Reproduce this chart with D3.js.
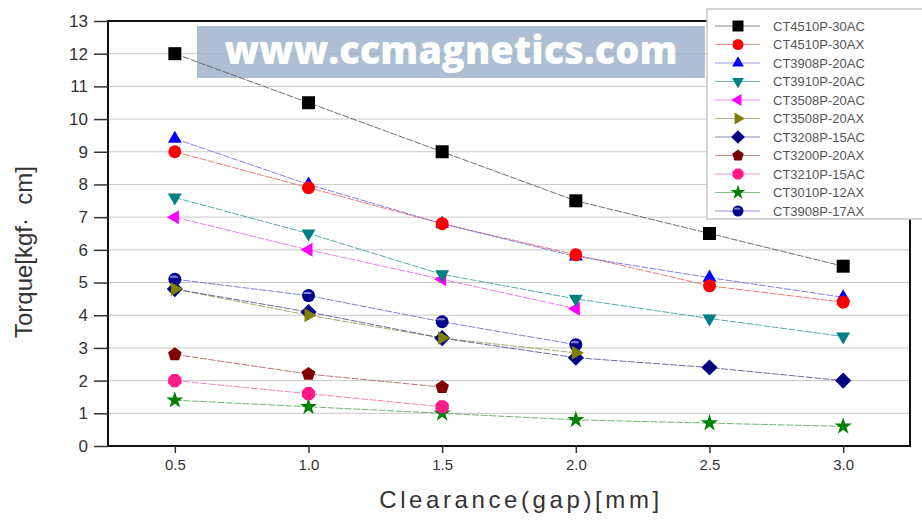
<!DOCTYPE html>
<html>
<head>
<meta charset="utf-8">
<script src="https://cdn.jsdelivr.net/npm/d3@7"></script>
<style>
  body { margin: 0; background: #fff; }
  svg text { font-family: Arial, "Liberation Sans", sans-serif; }
</style>
</head>
<body>
<div id="chart"></div>
<script>
// torque vs clearance, one line per magnet model

const W = 922, H = 522;

const gaps = [0.5, 1.0, 1.5, 2.0, 2.5, 3.0];
const yTicks = [0, 1, 2, 3, 4, 5, 6, 7, 8, 9, 10, 11, 12, 13];
const xTicks = [0.5, 1.0, 1.5, 2.0, 2.5, 3.0];

const models = [
  'CT4510P-30AC', 'CT4510P-30AX', 'CT3908P-20AC', 'CT3910P-20AC',
  'CT3508P-20AC', 'CT3508P-20AX', 'CT3208P-15AC', 'CT3200P-20AX',
  'CT3210P-15AC', 'CT3010P-12AX', 'CT3908P-17AX'
];

const ct4510p30ac = [12.0, 10.5, 9.0, 7.5, 6.5, 5.5];
const ct4510p30ax = [9.0, 7.9, 6.8, 5.85, 4.9, 4.4];
const ct3908p20ac = [9.4, 8.0, 6.8, 5.8, 5.15, 4.55];
const ct3910p20ac = [7.6, 6.5, 5.25, 4.5, 3.9, 3.35];
const ct3508p20ac = [7.0, 6.0, 5.1, 4.2];
const ct3508p20ax = [4.8, 4.0, 3.3, 2.85];
const ct3208p15ac = [4.8, 4.1, 3.3, 2.7, 2.4, 2.0];
const ct3200p20ax = [2.8, 2.2, 1.8];
const ct3210p15ac = [2.0, 1.6, 1.2];
const ct3010p12ax = [1.4, 1.2, 1.0, 0.8, 0.7, 0.6];
const ct3908p17ax = [5.1, 4.6, 3.8, 3.1];

const seriesValues = [
  ct4510p30ac, ct4510p30ax, ct3908p20ac, ct3910p20ac, ct3508p20ac, ct3508p20ax,
  ct3208p15ac, ct3200p20ax, ct3210p15ac, ct3010p12ax, ct3908p17ax
];

// marker fill, line colour, shape
const markColors = ['#000000', '#ff0000', '#0000ff', '#008080', '#ff00ff', '#808000',
  '#000080', '#800000', '#ff1a8c', '#008000', '#00008b'];
const lineColors = ['#555555', '#f06060', '#6a6ae6', '#3a9a9a', '#f060f0', '#9a9a50',
  '#55558f', '#b06060', '#f070b0', '#5aa65a', '#6a6acc'];
const shapes = ['square', 'circle', 'up', 'down', 'left', 'right', 'diamond',
  'pentagon', 'octagon', 'star', 'halfcircle'];

const margin = { left: 108, right: 12, top: 21, bottom: 76 };
const x = d3.scaleLinear().domain([0.25, 3.25]).range([margin.left, W - margin.right]);
const y = d3.scaleLinear().domain([0, 13]).range([H - margin.bottom, margin.top]);

function polygon(n, r, rot) {
  const pts = d3.range(n).map(i => {
    const a = rot + i * 2 * Math.PI / n;
    return [r * Math.sin(a), -r * Math.cos(a)];
  });
  return 'M' + pts.map(p => p.join(',')).join('L') + 'Z';
}

function shapePath(shape, s) {
  // s = nominal marker size in px
  switch (shape) {
    case 'square': return d3.symbol(d3.symbolSquare, s * s)();
    case 'circle': return d3.symbol(d3.symbolCircle, Math.PI * s * s / 4)();
    case 'halfcircle': return d3.symbol(d3.symbolCircle, Math.PI * s * s / 4)();
    case 'up': return polygon(3, s * 0.62, 0);
    case 'down': return polygon(3, s * 0.62, Math.PI);
    case 'left': return polygon(3, s * 0.62, -Math.PI / 2);
    case 'right': return polygon(3, s * 0.62, Math.PI / 2);
    case 'diamond': return polygon(4, s * 0.62, 0);
    case 'pentagon': return polygon(5, s * 0.55, 0);
    case 'octagon': return polygon(8, s * 0.55, Math.PI / 8);
    case 'star': return d3.symbol(d3.symbolStar, s * s * 0.55)();
  }
}

const svg = d3.select('#chart').append('svg')
  .attr('width', W).attr('height', H);

// grid
svg.append('g')
  .selectAll('line')
  .data(yTicks.slice(1, -1))
  .join('line')
  .attr('x1', margin.left).attr('x2', W - margin.right)
  .attr('y1', d => y(d)).attr('y2', d => y(d))
  .attr('stroke', '#c8c8c8').attr('stroke-width', 1);

// watermark banner
svg.append('rect')
  .attr('x', 197).attr('y', 26).attr('width', 508).attr('height', 52)
  .attr('fill', '#8fa6c2').attr('opacity', 0.72);
svg.append('text')
  .attr('x', 451).attr('y', 64)
  .attr('text-anchor', 'middle')
  .attr('fill', '#ffffff')
  .style('font-family', '"Open Sans", sans-serif')
  .style('font-weight', 800)
  .style('font-size', '38px')
  .text('www.ccmagnetics.com');

// lines + markers
const line = d3.line()
  .x((d, i) => x(gaps[i]))
  .y(d => y(d));

seriesValues.forEach((vals, k) => {
  svg.append('path')
    .attr('d', line(vals))
    .attr('fill', 'none')
    .attr('stroke', lineColors[k])
    .attr('stroke-width', 1)
    .attr('stroke-dasharray', '7,1.5')
    .attr('opacity', 0.85);
});

function drawMarker(g, k, cx, cy, s) {
  g.append('path')
    .attr('d', shapePath(shapes[k], s))
    .attr('transform', `translate(${cx},${cy})`)
    .attr('fill', markColors[k]);
  if (shapes[k] === 'halfcircle') {
    g.append('path')
      .attr('d', d3.arc()({ innerRadius: 0, outerRadius: s * 0.32, startAngle: -Math.PI / 2, endAngle: Math.PI / 2 }))
      .attr('transform', `translate(${cx - 1},${cy - 1.5}) scale(1,0.55)`)
      .attr('fill', '#8080d8');
  }
}

// draw in reverse so the first series ends up on top
const marks = svg.append('g');
d3.range(seriesValues.length).reverse().forEach(k => {
  seriesValues[k].forEach((v, i) => drawMarker(marks, k, x(gaps[i]), y(v), 13));
});

// frame
svg.append('rect')
  .attr('x', margin.left).attr('y', margin.top)
  .attr('width', W - margin.left - margin.right)
  .attr('height', H - margin.top - margin.bottom)
  .attr('fill', 'none').attr('stroke', '#111').attr('stroke-width', 2);

// axes
const yAxis = svg.append('g')
  .attr('transform', `translate(${margin.left},0)`)
  .call(d3.axisLeft(y).tickValues(yTicks).tickSize(14).tickPadding(6).tickFormat(d3.format('d')));
yAxis.select('.domain').remove();
yAxis.selectAll('.tick line').attr('stroke', '#333').attr('stroke-width', 1.5);
yAxis.selectAll('.tick text')
  .attr('fill', '#333')
  .style('font-size', '17px');

const xAxis = svg.append('g')
  .attr('transform', `translate(0,${H - margin.bottom})`)
  .call(d3.axisBottom(x).tickValues(xTicks).tickSize(7).tickPadding(6).tickFormat(d3.format('.1f')));
xAxis.select('.domain').remove();
xAxis.selectAll('.tick line').attr('stroke', '#333').attr('stroke-width', 1.5);
xAxis.selectAll('.tick text')
  .attr('fill', '#333')
  .style('font-size', '15px');

// axis titles
svg.append('text')
  .attr('transform', 'translate(32,252) rotate(-90)')
  .attr('text-anchor', 'middle')
  .attr('fill', '#333')
  .style('font-size', '24px')
  .style('white-space', 'pre')
  .text('Torque[kgf\u00b7\u00a0 cm]');

svg.append('text')
  .attr('x', 521).attr('y', 508)
  .attr('text-anchor', 'middle')
  .attr('fill', '#333')
  .style('font-size', '24px')
  .style('letter-spacing', '3.6px')
  .text('Clearance(gap)[mm]');

// legend
const legend = svg.append('g');
legend.append('rect')
  .attr('x', 707).attr('y', 9).attr('width', 222).attr('height', 210)
  .attr('fill', '#fff').attr('stroke', '#c8c8c8').attr('stroke-width', 1.5);

models.forEach((name, k) => {
  const ly = 26 + k * 18.5;
  legend.append('line')
    .attr('x1', 715).attr('x2', 760).attr('y1', ly).attr('y2', ly)
    .attr('stroke', lineColors[k]).attr('stroke-width', 1).attr('opacity', 0.7);
  drawMarker(legend, k, 738, ly, 11);
  legend.append('text')
    .attr('x', 773).attr('y', ly + 4.5)
    .attr('fill', '#555')
    .style('font-size', '13px')
    .text(name);
});
</script>
</body>
</html>
